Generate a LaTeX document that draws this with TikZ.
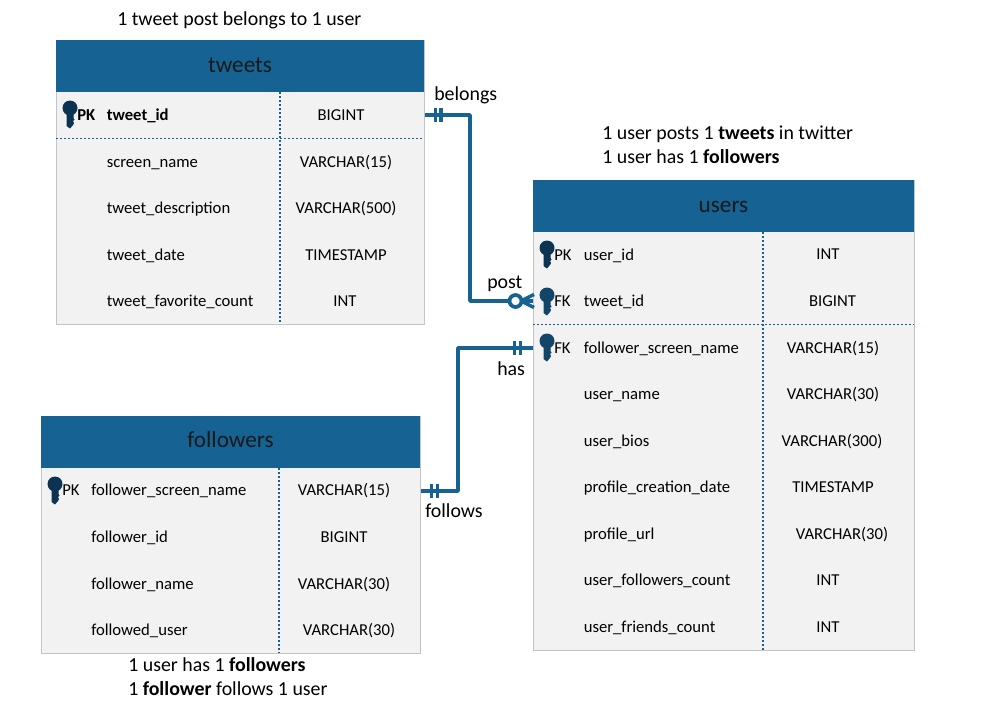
\documentclass[tikz,border=0pt]{standalone}
\usepackage{fontspec}
\setmainfont{Carlito}
\definecolor{hdr}{HTML}{156293}
\definecolor{body}{HTML}{F2F2F2}
\definecolor{edge}{HTML}{C4C4C4}
\definecolor{pkey}{HTML}{0C3352}
\definecolor{fkey}{HTML}{124669}
\tikzset{
  tablebox/.style={draw=edge,line width=0.9pt,fill=body,inner sep=0pt,anchor=north west},
  headbox/.style={fill=hdr,inner sep=0pt,anchor=north west},
  headtext/.style={font=\fontsize{17.4}{19}\selectfont,text=black!90,inner sep=0pt,anchor=base},
  cell/.style={font=\fontsize{12.5}{14}\selectfont,inner sep=0pt,anchor=base west},
  typecell/.style={font=\fontsize{12.5}{14}\selectfont,inner sep=0pt,anchor=base},
  note/.style={font=\fontsize{14.9}{17}\selectfont,inner sep=0pt,anchor=base west},
  divider/.style={hdr,line width=1.2pt,dash pattern=on 1.5pt off 1.5pt},
  rel/.style={hdr,line width=2.8pt,line join=round},
  tick/.style={hdr,line width=2.8pt},
}
\newcommand{\keyicon}[3]{% x, y (top of head), colour
  \fill[#3] (#1,#2+7) circle[radius=7.5];
  \fill[#3] (#1-3.5,#2+12) -- (#1+3.5,#2+12) -- (#1+3.5,#2+17) -- (#1+4.5,#2+18.5) -- (#1+3,#2+20) -- (#1+4,#2+22) -- (#1+3,#2+24) -- (#1,#2+27.5) -- (#1-3.5,#2+25) -- cycle;}
\begin{document}
\begin{tikzpicture}[x=0.75pt,y=-0.75pt]
\useasboundingbox (0,0) rectangle (982,711);
\fill[white] (0,0) rectangle (982,711);
% ---- tweets
\node[tablebox,minimum width=276pt,minimum height=213pt] (tweets) at (56,40) {};
\node[headbox,minimum width=276pt,minimum height=39pt] (tweetsH) at (56,40) {};
\node[headtext] (tweetsT) at (240,72) {tweets};
\draw[divider] (280,92) -- (280,324);
\draw[divider] (56,138.5) -- (424,138.5);
\keyicon{70}{101}{pkey}
\node[cell] (tpk) at (77,120) {\textbf{PK}};
\node[cell] (tid) at (106.5,120) {\textbf{tweet\_id}};
\node[typecell] at (341,120) {BIGINT};
\node[cell] at (106.5,167) {screen\_name};
\node[typecell] at (346,167) {VARCHAR(15)};
\node[cell] at (106.5,213) {tweet\_description};
\node[typecell] at (346,213) {VARCHAR(500)};
\node[cell] at (106.5,260) {tweet\_date};
\node[typecell] at (346,260) {TIMESTAMP};
\node[cell] at (106.5,306) {tweet\_favorite\_count};
\node[typecell] at (345,306) {INT};
% ---- users
\node[tablebox,minimum width=285.75pt,minimum height=352.5pt] (users) at (533,180) {};
\node[headbox,minimum width=285.75pt,minimum height=39pt] (usersH) at (533,180) {};
\node[headtext] (usersT) at (723.5,212) {users};
\draw[divider] (763,232) -- (763,650);
\draw[divider] (533,324.5) -- (914,324.5);
\keyicon{547}{241}{pkey}
\node[cell] at (554,260) {PK};
\node[cell] (uid) at (583.5,260) {user\_id};
\node[typecell] at (828,259) {INT};
\keyicon{547}{288}{fkey}
\node[cell] at (554,306) {FK};
\node[cell] (utid) at (583.5,306) {tweet\_id};
\node[typecell] at (832.5,306) {BIGINT};
\keyicon{547}{334}{fkey}
\node[cell] at (554,353) {FK};
\node[cell] (ufs) at (583.5,353) {follower\_screen\_name};
\node[typecell] at (833,353) {VARCHAR(15)};
\node[cell] at (583.5,399) {user\_name};
\node[typecell] at (833,399) {VARCHAR(30)};
\node[cell] at (583.5,446) {user\_bios};
\node[typecell] at (832,446) {VARCHAR(300)};
\node[cell] at (583.5,492) {profile\_creation\_date};
\node[typecell] at (833,492) {TIMESTAMP};
\node[cell] at (583.5,539) {profile\_url};
\node[typecell] at (842,539) {VARCHAR(30)};
\node[cell] at (583.5,585) {user\_followers\_count};
\node[typecell] at (828,585) {INT};
\node[cell] at (583.5,632) {user\_friends\_count};
\node[typecell] at (828,632) {INT};
% ---- followers
\node[tablebox,minimum width=284.25pt,minimum height=177.75pt] (followers) at (41,416) {};
\node[headbox,minimum width=284.25pt,minimum height=39pt] (followersH) at (41,416) {};
\node[headtext] (followersT) at (230.5,447) {followers};
\draw[divider] (279,468) -- (279,653);
\keyicon{55}{477}{pkey}
\node[cell] at (62,495) {PK};
\node[cell] (fsn) at (91,495) {follower\_screen\_name};
\node[typecell] at (344,495) {VARCHAR(15)};
\node[cell] at (91,542) {follower\_id};
\node[typecell] at (344,542) {BIGINT};
\node[cell] at (91,589) {follower\_name};
\node[typecell] at (344,589) {VARCHAR(30)};
\node[cell] at (91,635) {followed\_user};
\node[typecell] at (349,635) {VARCHAR(30)};
% ---- connectors
\coordinate (tweetsOut) at (tweets.east |- 0,115);
\coordinate (usersPost) at (users.west |- 0,301);
\coordinate (usersHas) at (users.west |- 0,348);
\coordinate (followersOut) at (followers.east |- 0,491);
\coordinate (circ) at (515.5,301);
\draw[rel] (tweetsOut) -- (470,115) -- (470,301) -- (circ);
\draw[rel] (followersOut) -- (458,491) -- (458,348) -- (usersHas);
\draw[rel,fill=white] (circ) circle[radius=6];
\draw[hdr,line width=2.6pt] (522,301) -- (usersPost);
\draw[hdr,line width=2.6pt] (521,301) -- (534,294.5);
\draw[hdr,line width=2.6pt] (521,301) -- (534,307.5);
\foreach \bx in {435.5,441} \draw[tick] (\bx,108) -- (\bx,122);
\foreach \bx in {431.5,437.5} \draw[tick] (\bx,484) -- (\bx,498);
\foreach \bx in {514.5,520.5} \draw[tick] (\bx,341) -- (\bx,355);
% ---- labels
\node[note] at (117,25) {1 tweet post belongs to 1 user};
\node[note] at (434,100) {belongs};
\node[note] at (487,288) {post};
\node[note] at (497,375) {has};
\node[note] at (425,517) {follows};
\node[note] at (602,139.5) {1 user posts 1 \textbf{tweets} in twitter};
\node[note] at (602,163) {1 user has 1 \textbf{followers}};
\node[note] at (128,671) {1 user has 1 \textbf{followers}};
\node[note] at (128,695) {1 \textbf{follower} follows 1 user};
\end{tikzpicture}
\end{document}
